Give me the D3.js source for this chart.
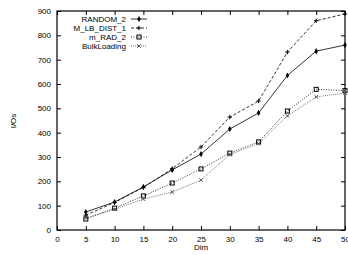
<!DOCTYPE html>
<html>
<head>
<meta charset="utf-8">
<script src="https://cdn.jsdelivr.net/npm/d3@7"></script>
<style>
body { margin: 0; background: #fff; }
text { font-family: "Liberation Sans", Arial, sans-serif; font-size: 8px; fill: #000; }
</style>
</head>
<body>
<svg id="chart" width="348" height="255"></svg>
<script>
let dims = [5, 10, 15, 20, 25, 30, 35, 40, 45, 50];
let random2 = [74, 115, 177, 247, 312, 415, 481, 635, 735, 760];
let mlbDist1 = [61, 113, 175, 252, 341, 464, 530, 731, 860, 888];
let mRad2 = [45, 90, 140, 193, 251, 316, 362, 489, 578, 573];
let bulk = [50, 85, 127, 156, 205, 310, 355, 469, 547, 563];
let xTicks = [0, 5, 10, 15, 20, 25, 30, 35, 40, 45, 50];
let yTicks = [0, 100, 200, 300, 400, 500, 600, 700, 800, 900];

let series = [
    { name: "RANDOM_2", vals: random2, dash: null, color: "#000", mark: "diamond" },
    { name: "M_LB_DIST_1", vals: mlbDist1, dash: "3,2", color: "#000", mark: "plus" },
    { name: "m_RAD_2", vals: mRad2, dash: "1,1.5", color: "#000", mark: "square" },
    { name: "BulkLoading", vals: bulk, dash: "1,1", color: "#555", mark: "cross" }
];

let L = 57, R = 345, T = 11, B = 230;
let svg = d3.select("#chart");
let x = d3.scaleLinear().domain([0, 50]).range([L, R]);
let y = d3.scaleLinear().domain([0, 900]).range([B, T]);

// axes with inward ticks
svg.append("g").attr("transform", `translate(0,${B})`)
    .call(d3.axisBottom(x).tickValues(xTicks).tickSizeInner(-4).tickSizeOuter(0).tickPadding(6))
    .call(g => g.select(".domain").remove());
svg.append("g").attr("transform", `translate(${L},0)`)
    .call(d3.axisLeft(y).tickValues(yTicks).tickSizeInner(-4).tickSizeOuter(0).tickPadding(6))
    .call(g => g.select(".domain").remove());
svg.append("g").attr("transform", `translate(0,${T})`)
    .call(d3.axisTop(x).tickValues(xTicks).tickSizeInner(-4).tickSizeOuter(0).tickFormat(""))
    .call(g => g.select(".domain").remove());
svg.append("g").attr("transform", `translate(${R},0)`)
    .call(d3.axisRight(y).tickValues(yTicks).tickSizeInner(-4).tickSizeOuter(0).tickFormat(""))
    .call(g => g.select(".domain").remove());
svg.selectAll(".tick text").style("font-size", "8px").style("font-family", '"Liberation Sans", Arial, sans-serif');

svg.append("rect").attr("x", L).attr("y", T).attr("width", R - L).attr("height", B - T)
    .attr("fill", "none").attr("stroke", "#000").attr("stroke-width", 1.2);

svg.append("text").attr("x", (L + R) / 2).attr("y", 250).attr("text-anchor", "middle").text("Dim");
svg.append("text").attr("transform", "translate(16,121) rotate(-90)").attr("text-anchor", "middle").text("I/Os");

function marker(g, type, cx, cy, color) {
    if (type === "diamond") {
        g.append("path").attr("d", d3.symbol(d3.symbolDiamond, 11)())
            .attr("transform", `translate(${cx},${cy})`).attr("fill", color);
    } else if (type === "plus") {
        g.append("path").attr("d", `M${cx - 2.2},${cy}H${cx + 2.2}M${cx},${cy - 2.2}V${cy + 2.2}`)
            .attr("stroke", color).attr("stroke-width", 1);
    } else if (type === "square") {
        g.append("rect").attr("x", cx - 2).attr("y", cy - 2).attr("width", 4).attr("height", 4)
            .attr("fill", "none").attr("stroke", color).attr("stroke-width", 1);
    } else {
        g.append("path").attr("d", `M${cx - 1.8},${cy - 1.8}L${cx + 1.8},${cy + 1.8}M${cx - 1.8},${cy + 1.8}L${cx + 1.8},${cy - 1.8}`)
            .attr("stroke", color).attr("stroke-width", 1);
    }
}

let line = d3.line().x((d, i) => x(dims[i])).y(d => y(d));

series.forEach(function(s, k) {
    let g = svg.append("g");
    g.append("path").datum(s.vals).attr("d", line)
        .attr("fill", "none").attr("stroke", s.color).attr("stroke-width", 0.8)
        .attr("stroke-dasharray", s.dash);
    s.vals.forEach((v, i) => marker(g, s.mark, x(dims[i]), y(v), s.color));

    // legend
    let ly = 19 + k * 9;
    svg.append("text").attr("x", 126).attr("y", ly + 3).attr("text-anchor", "end").text(s.name);
    g.append("line").attr("x1", 131).attr("x2", 147).attr("y1", ly).attr("y2", ly)
        .attr("stroke", s.color).attr("stroke-width", 0.8).attr("stroke-dasharray", s.dash);
    marker(g, s.mark, 139, ly, s.color);
});
</script>
</body>
</html>
